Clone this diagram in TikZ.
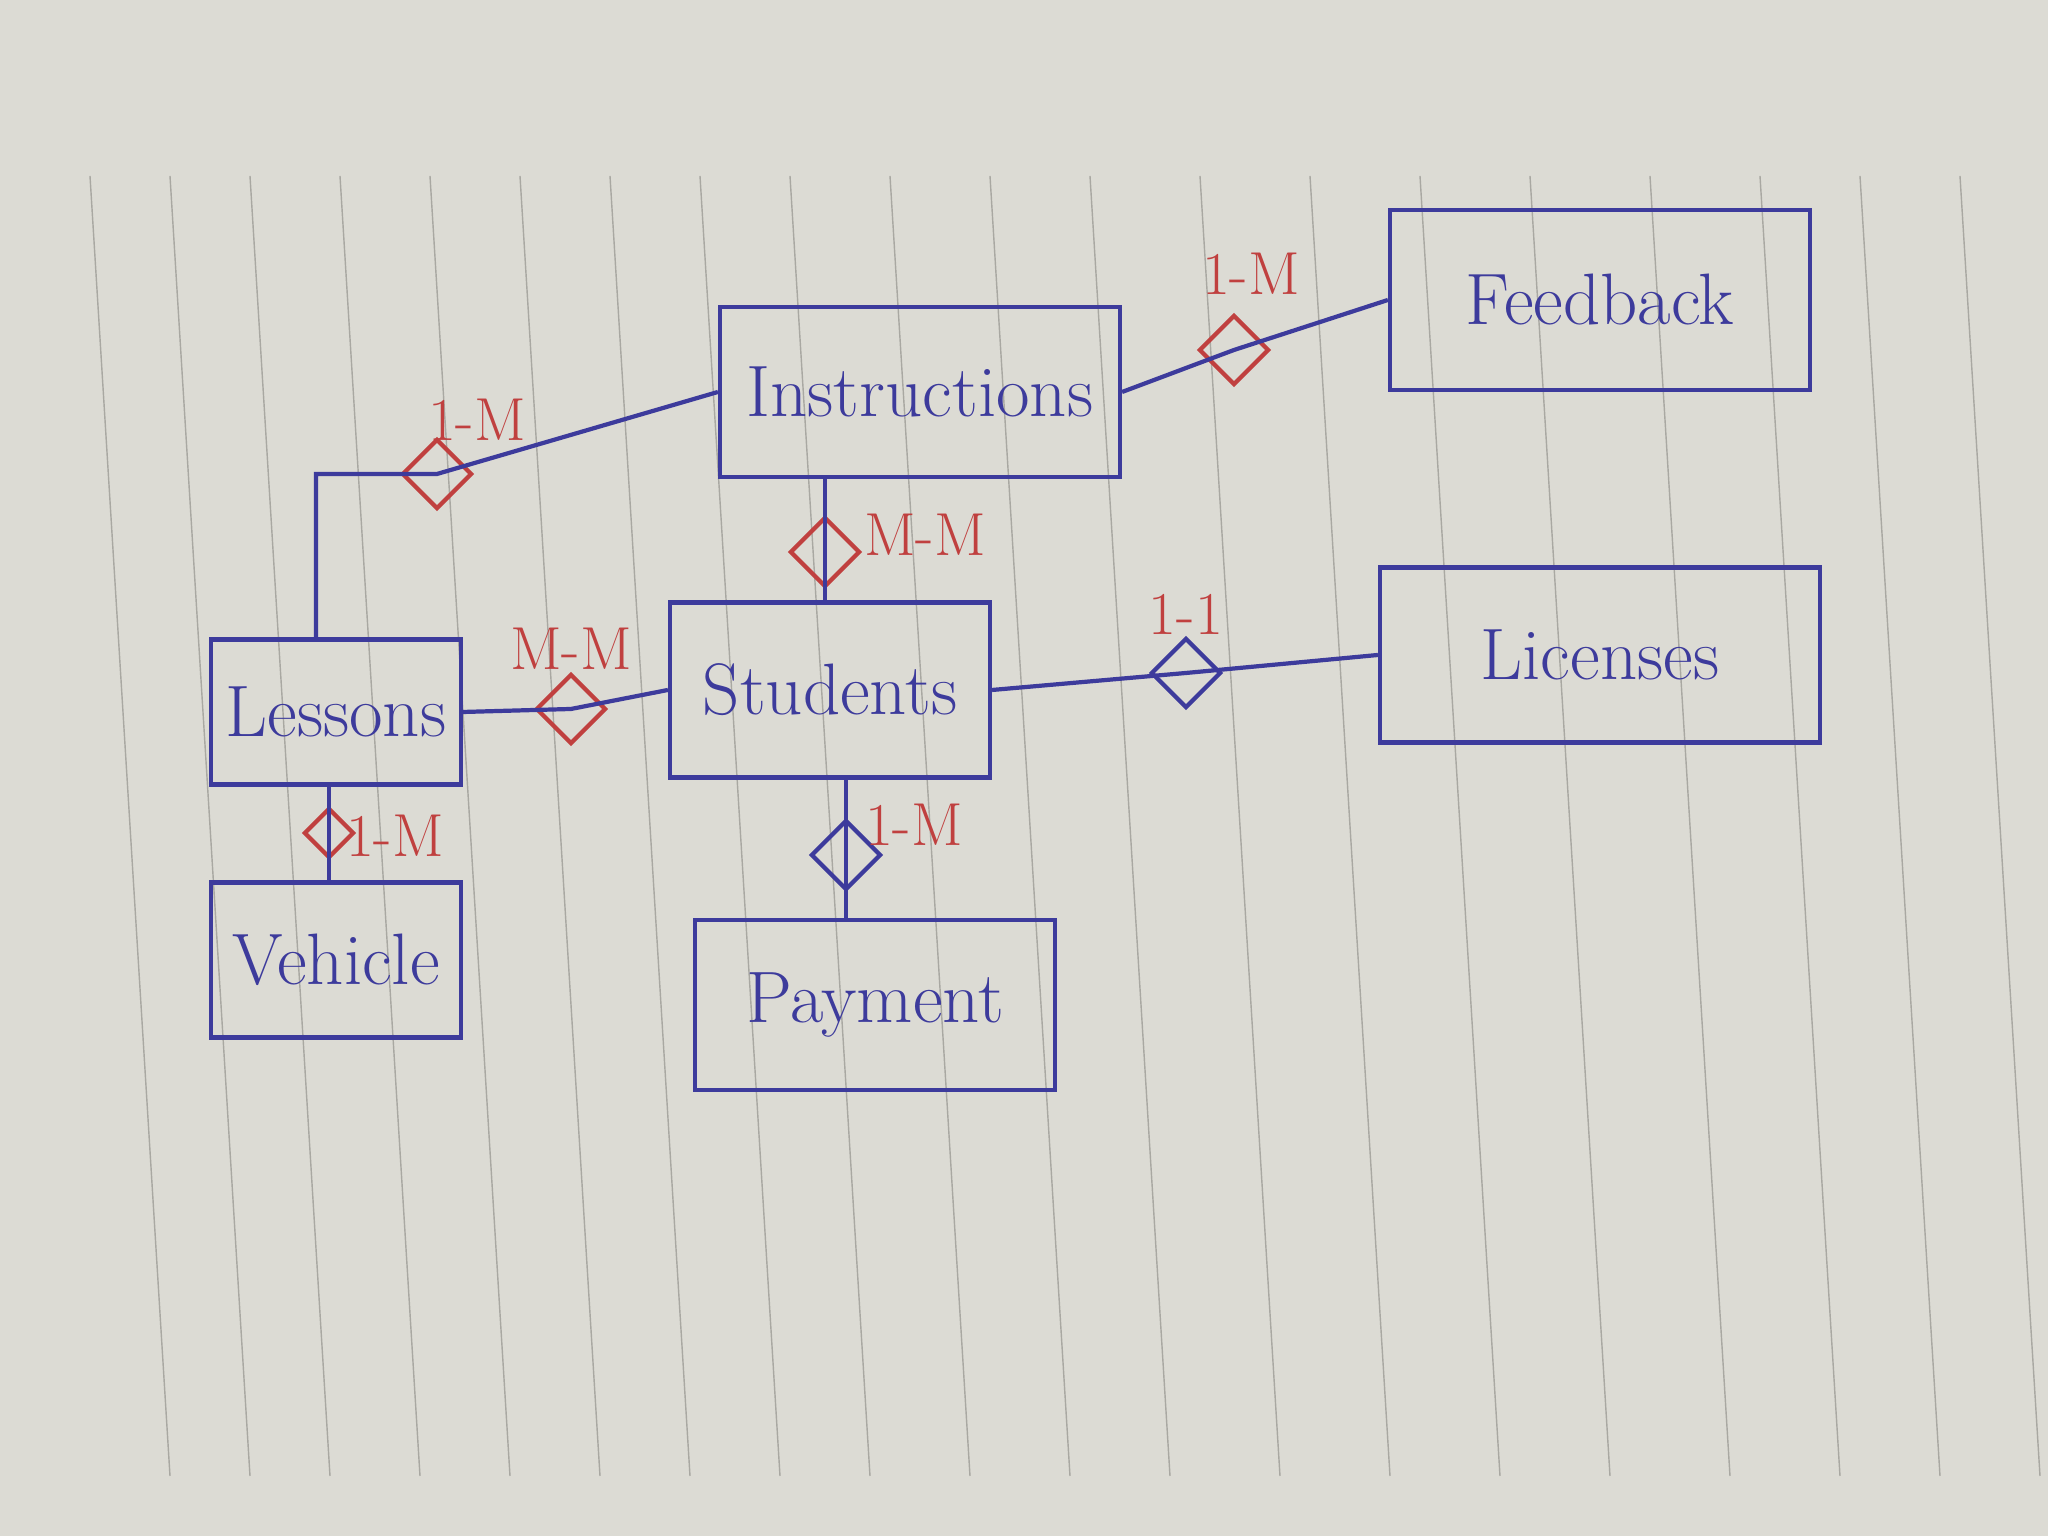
\documentclass[tikz,border=0pt]{standalone}
\usepackage{xcolor}
\usepackage{tikz}
\usetikzlibrary{positioning,shapes.geometric}

\definecolor{ink}{HTML}{3D3B9C}
\definecolor{redink}{HTML}{C0403F}
\definecolor{paper}{HTML}{DCDBD4}
\definecolor{rule}{HTML}{A9A8A2}

\tikzset{
  entity/.style={draw=ink, very thick, text=ink, font=\huge, inner sep=2pt},
  rel/.style={diamond, draw=redink, very thick, minimum size=7mm, inner sep=0pt},
  card/.style={text=redink, font=\LARGE},
  link/.style={draw=ink, very thick}
}

\begin{document}
\begin{tikzpicture}

  % Paper
  \fill[paper] (0,0) rectangle (20.48,15.36);
  \useasboundingbox (0,0) rectangle (20.48,15.36);
  \foreach \x in {0.9,1.7,2.5,3.4,4.3,5.2,6.1,7.0,7.9,8.9,9.9,10.9,12.0,13.1,14.2,15.3,16.5,17.6,18.6,19.6}
    \draw[rule, thin] (\x,13.6) -- ({\x+0.8},0.6);

  % Entities
  \foreach \name/\x/\y/\w/\h/\text in {
    instr/9.2/11.44/4.0/1.7/Instructions,
    feedback/16.0/12.36/4.2/1.8/Feedback,
    lessons/3.36/8.24/2.5/1.45/Lessons,
    students/8.3/8.46/3.2/1.75/Students,
    licenses/16.0/8.81/4.4/1.75/Licenses,
    vehicle/3.36/5.76/2.5/1.55/Vehicle,
    payment/8.75/5.31/3.6/1.7/Payment}
    \node[entity, minimum width=\w cm, minimum height=\h cm] (\name) at (\x,\y) {\text};

  % Relationships
  \node[rel] (r1) at (4.37,10.62) {};
  \node[rel] (r2) at (12.34,11.86) {};
  \node[rel] (r3) at (8.25,9.84) {};
  \node[rel] (r4) at (5.71,8.27) {};
  \node[rel, draw=ink] (r5) at (11.86,8.63) {};
  \node[rel, minimum size=5mm] (r6) at (3.29,7.03) {};
  \node[rel, draw=ink] (r7) at (8.46,6.81) {};

  % Cardinalities
  \node[card] (c1) at (4.77,11.16) {1-M};
  \node[card] (c2) at (12.51,12.62) {1-M};
  \node[card] (c3) at (9.25,10.01) {M-M};
  \node[card] (c4) at (5.71,8.87) {M-M};
  \node[card] (c5) at (11.86,9.22) {1-1};
  \node[card] (c6) at (3.95,7.0) {1-M};
  \node[card] (c7) at (9.14,7.11) {1-M};

  % Connectors
  \draw[link] ([xshift=-2mm]lessons.north) |- (r1.center) -- (instr.west);
  \draw[link] (instr.east) -- (r2.center) -- (feedback.west);
  \draw[link] (r3 |- instr.south) -- (r3.center) -- (r3 |- students.north);
  \draw[link] (lessons.east) -- (r4.center) -- (students.west);
  \draw[link] (students.east) -- (r5.center) -- (licenses.west);
  \draw[link] (r6 |- lessons.south) -- (r6.center) -- (r6 |- vehicle.north);
  \draw[link] (r7 |- students.south) -- (r7.center) -- (r7 |- payment.north);

\end{tikzpicture}
\end{document}
